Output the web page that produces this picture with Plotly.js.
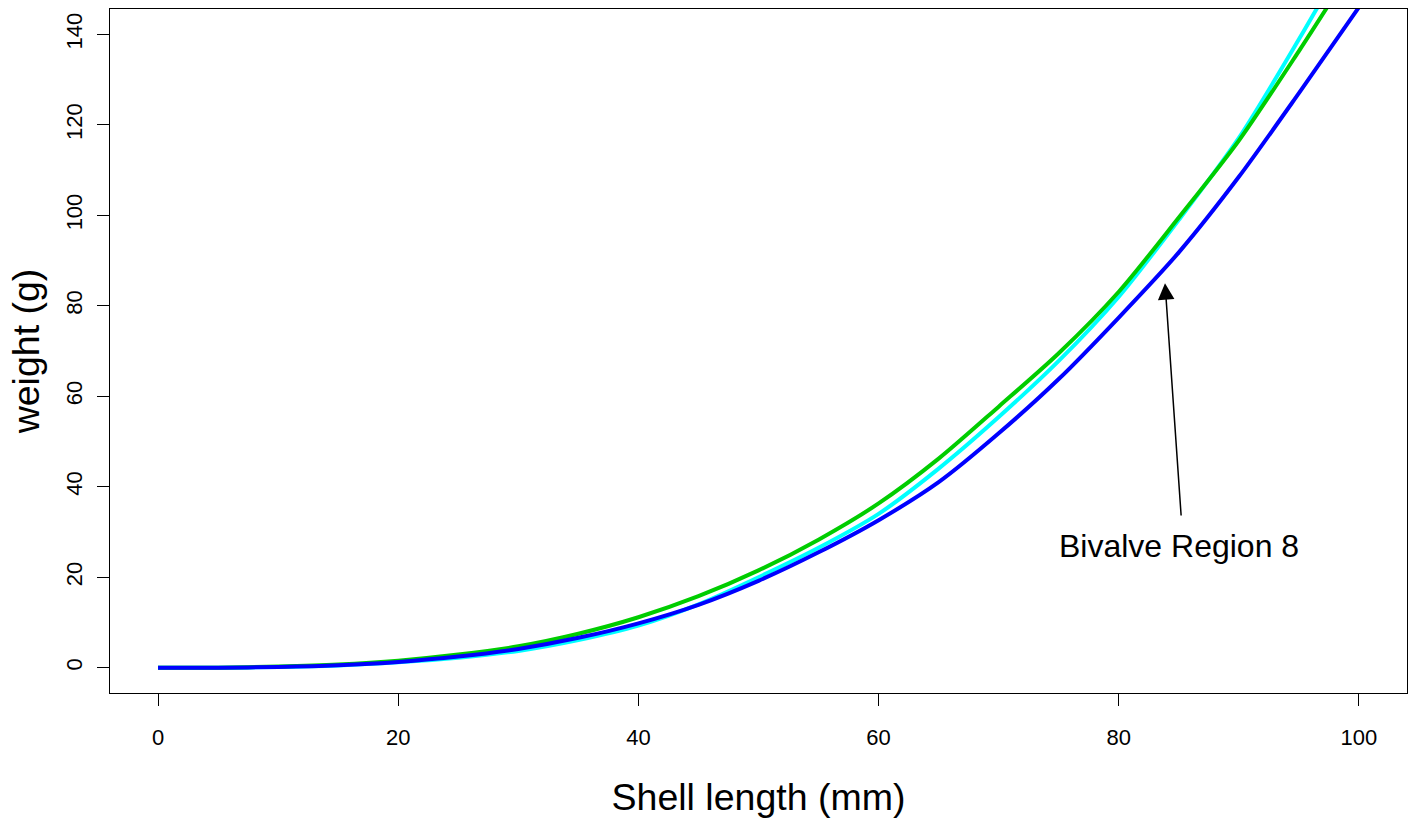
<!DOCTYPE html>
<html>
<head>
<meta charset="utf-8">
<script src="https://cdn.plot.ly/plotly-3.0.1.min.js"></script>
<style>
  html, body { margin: 0; padding: 0; background: #ffffff; }
  #chart { width: 1408px; height: 818px; }
</style>
</head>
<body>
<div id="chart"></div>
<script>
// Shell length (mm)
const shellLength = [0, 5, 10, 15, 20, 25, 30, 35, 40, 45, 50, 55, 60, 65, 70, 75, 80, 85, 90, 95, 100];
// weight (g) by curve
const weightCyan  = [0, 0, 0.15, 0.5, 1.2, 2.2, 3.7, 6.1, 9.3, 14.0, 20.0, 26.5, 34.0, 44.0, 55.4, 67.8, 82.0, 99.0, 117.1, 138.9, 162];
const weightGreen = [0, 0, 0.25, 0.7, 1.55, 2.9, 4.72, 7.5, 11.15, 15.8, 21.5, 28.3, 36.3, 46.2, 57.7, 69.5, 83.1, 99.5, 116.5, 136.3, 157];
const weightBlue  = [0, 0, 0.16, 0.54, 1.27, 2.45, 4.14, 6.6, 9.8, 13.9, 19.2, 25.5, 32.6, 41.0, 51.8, 63.8, 77.4, 91.8, 108.5, 127.0, 146];

const xTicks = [0, 20, 40, 60, 80, 100];
const yTicks = [0, 20, 40, 60, 80, 100, 120, 140];

// annotation: label and the point it refers to
const labelText = "Bivalve Region 8";
const labelPos = [85.0, 27.0];
const arrowTail = [85.2, 33.3];
const arrowTip = [83.85, 85.0];

const font = "Liberation Sans, Arial, Helvetica, sans-serif";

const lineStyle = (c) => ({ color: c, width: 4, shape: "spline", smoothing: 0.8 });

const traces = [
  { x: shellLength, y: weightCyan,  mode: "lines", line: lineStyle("#00FFFF"), name: "cyan" },
  { x: shellLength, y: weightGreen, mode: "lines", line: lineStyle("#00CD00"), name: "green" },
  { x: shellLength, y: weightBlue,  mode: "lines", line: lineStyle("#0000FF"), name: "blue" }
];

const layout = {
  width: 1408, height: 818,
  margin: { l: 110, r: 1, t: 9, b: 125 },
  paper_bgcolor: "#ffffff", plot_bgcolor: "#ffffff",
  showlegend: false,
  font: { family: font, color: "#000000" },
  xaxis: {
    range: [-4, 104],
    tickvals: xTicks, ticktext: xTicks.map(String),
    ticks: "outside", ticklen: 12, tickwidth: 1, tickcolor: "#000",
    showline: true, mirror: true, linecolor: "#000", linewidth: 1,
    showgrid: false, zeroline: false,
    tickfont: { size: 22, family: font, color: "#000" },
    ticklabelstandoff: 13,
    title: { text: "Shell length (mm)", font: { size: 37.5, family: font, color: "#000" }, standoff: 36 }
  },
  yaxis: {
    range: [-5.6, 145.6],
    tickvals: yTicks, ticktext: yTicks.map(String),
    ticks: "outside", ticklen: 12, tickwidth: 1, tickcolor: "#000",
    tickangle: -90,
    showline: true, mirror: true, linecolor: "#000", linewidth: 1,
    showgrid: false, zeroline: false,
    tickfont: { size: 22, family: font, color: "#000" },
    ticklabelstandoff: 6,
    title: { text: "weight (g)", font: { size: 37.5, family: font, color: "#000" }, standoff: 11 }
  },
  annotations: [
    {
      x: arrowTip[0], y: arrowTip[1], xref: "x", yref: "y",
      ax: arrowTail[0], ay: arrowTail[1], axref: "x", ayref: "y",
      text: "", showarrow: true, arrowhead: 2, arrowsize: 2.2, arrowwidth: 1.5,
      arrowcolor: "#000", standoff: 0, startstandoff: 0
    },
    {
      x: labelPos[0], y: labelPos[1], xref: "x", yref: "y",
      text: labelText, showarrow: false,
      font: { size: 32, family: font, color: "#000" },
      xanchor: "center", yanchor: "middle"
    }
  ]
};

Plotly.newPlot("chart", traces, layout, { displayModeBar: false, staticPlot: true });
</script>
</body>
</html>
